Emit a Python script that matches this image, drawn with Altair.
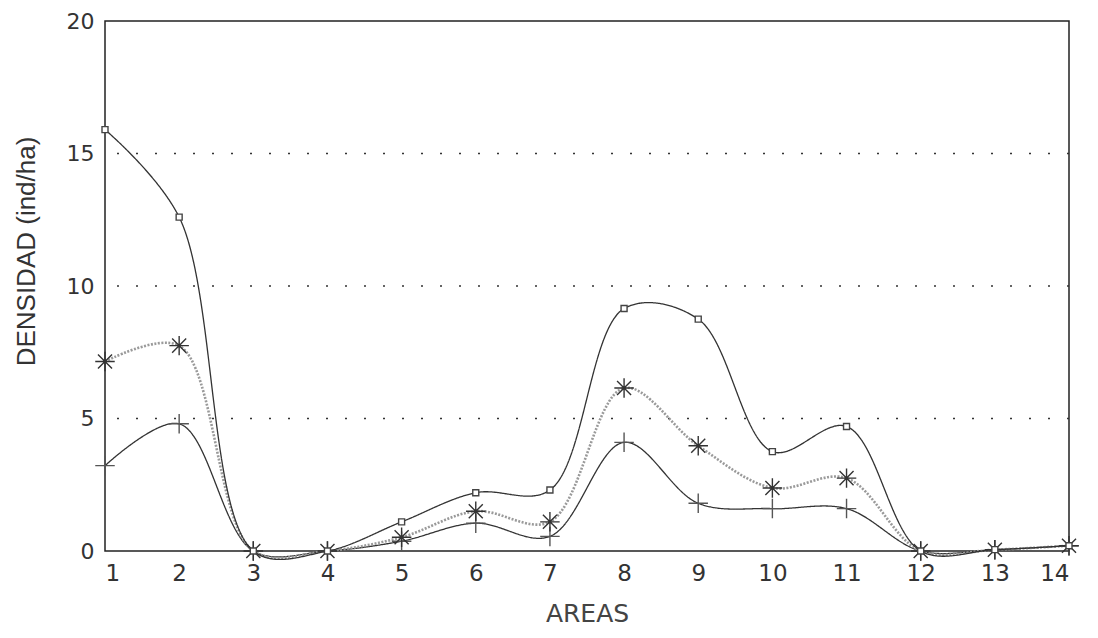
import altair as alt
import pandas as pd

areas = list(range(1, 15))
cuadrados = [15.9, 12.6, 0.0, 0.0, 1.1, 2.2, 2.3, 9.15, 8.75, 3.75, 4.7, 0.0, 0.05, 0.2]
asteriscos = [7.15, 7.75, 0.0, 0.0, 0.52, 1.5, 1.1, 6.15, 3.97, 2.38, 2.75, 0.0, 0.05, 0.2]
cruces = [3.22, 4.8, 0.0, 0.0, 0.37, 1.05, 0.55, 4.1, 1.8, 1.6, 1.6, 0.0, 0.05, 0.2]
y_ticks = [0, 5, 10, 15, 20]
y_grid = [5, 10, 15]

series = ["cuadrados", "asteriscos", "cruces"]
rows = []
for name, vals in zip(series, [cuadrados, asteriscos, cruces]):
    for a, v in zip(areas, vals):
        rows.append({"serie": name, "area": a, "dens": v})
df = pd.DataFrame(rows)
grid_df = pd.DataFrame({"g": y_grid})

FONT = "DejaVu Sans"
x = alt.X("area:Q", scale=alt.Scale(domain=[1, 14], nice=False),
          axis=alt.Axis(values=areas, title="AREAS", grid=False, ticks=False,
                        domain=False, labelFontSize=23, titleFontSize=25,
                        labelPadding=11, titlePadding=16, labelColor="#333",
                        titleColor="#444", titleFontWeight="normal",
                        labelFont=FONT, titleFont=FONT))
y = alt.Y("dens:Q", scale=alt.Scale(domain=[0, 20], nice=False),
          axis=alt.Axis(values=y_ticks, title="DENSIDAD (ind/ha)", grid=False,
                        ticks=False, domain=False, labelFontSize=22,
                        labelPadding=11, labelColor="#333",
                        titleFontSize=26, titleColor="#333",
                        titleFontWeight="normal", labelFont=FONT,
                        titleFont="Liberation Sans",
                        titleX=-79, titleY=230, titleAngle=270,
                        titleAlign="center", titleBaseline="middle"))

grid = alt.Chart(grid_df).mark_rule(color="#333", strokeWidth=1.3, strokeDash=[2, 17]).encode(
    y=alt.Y("g:Q", scale=alt.Scale(domain=[0, 20], nice=False)))

star = "M-1,0L1,0M0,-1L0,1M-0.72,-0.72L0.72,0.72M-0.72,0.72L0.72,-0.72"
plus = "M-1,0L1,0M0,-1L0,1"
sq = "M-1,-1L1,-1L1,1L-1,1Z"

def serie_layers(name, line_color, width, dash, shape, size, mcolor, fill):
    base = alt.Chart(df).transform_filter(alt.datum.serie == name)
    ln = base.mark_line(interpolate="catmull-rom", color=line_color,
                        strokeWidth=width, strokeDash=dash).encode(x=x, y=y)
    pt = base.mark_point(shape=shape, size=size, stroke=mcolor, strokeWidth=1.4,
                         fill=fill, fillOpacity=1 if fill != "none" else 0,
                         opacity=1).encode(x=x, y=y)
    return ln, pt

l1, p1 = serie_layers("cuadrados", "#333333", 1.3, [1, 0], sq, 36, "#444444", "white")
l2, p2 = serie_layers("asteriscos", "#9a9a9a", 2.6, [2, 1.5], star, 380, "#333333", "none")
l3, p3 = serie_layers("cruces", "#333333", 1.3, [1, 0], plus, 380, "#555555", "none")

chart = alt.layer(grid, l3, l2, l1, p3, p2, p1).properties(
    width=964, height=530,
    background="white",
    padding={"left": 97, "top": 13, "right": 10, "bottom": 86},
    autosize=alt.AutoSizeParams(type="none"),
).configure_view(stroke="#222", strokeWidth=1.5)

chart.save("out.html", embed_options={"renderer": "svg", "actions": False})
